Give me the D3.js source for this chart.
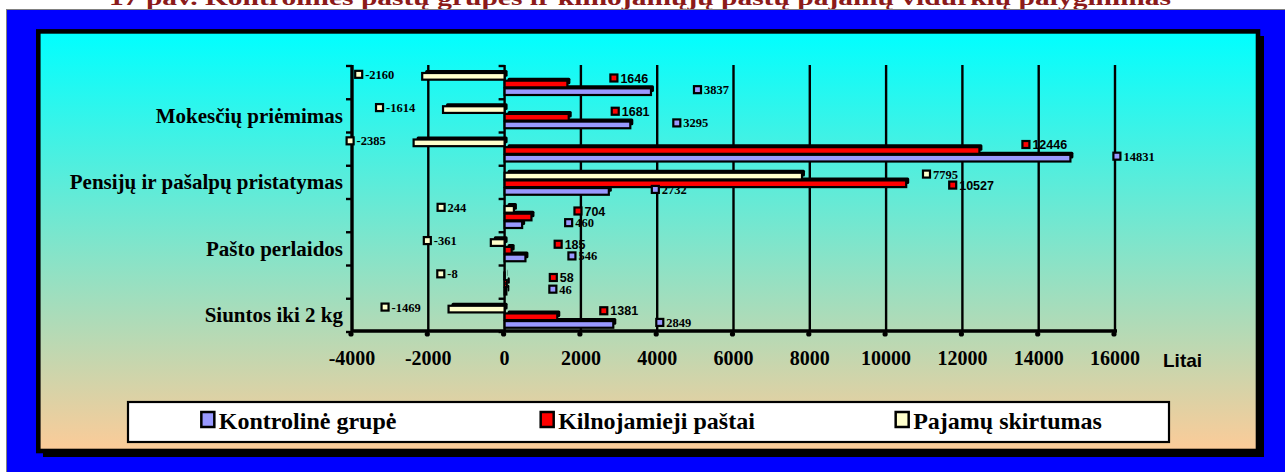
<!DOCTYPE html>
<html>
<head>
<meta charset="utf-8">
<script src="https://cdn.jsdelivr.net/npm/d3@7"></script>
<style>
  body { margin: 0; background: #fff; }
</style>
</head>
<body>
<div id="chart"></div>
<script>
// chart data, rows listed top to bottom (every 2nd category label hidden)
var categories = ["", "Mokesčių priėmimas", "", "Pensijų ir pašalpų pristatymas", "", "Pašto perlaidos", "", "Siuntos iki 2 kg"];
var kontroline = [3837, 3295, 14831, 2732, 460, 546, 46, 2849];
var kilnojamieji = [1646, 1681, 12446, 10527, 704, 185, 58, 1381];
var skirtumas = [-2160, -1614, -2385, 7795, 244, -361, -8, -1469];
var seriesNames = ["Kontrolinė grupė", "Kilnojamieji paštai", "Pajamų skirtumas"];
var xTicks = [-4000, -2000, 0, 2000, 4000, 6000, 8000, 10000, 12000, 14000, 16000];
var title = "17 pav. Kontrolinės paštų grupės ir kilnojamųjų paštų pajamų vidurkių palyginimas";
var unitLabel = "Litai";

var colors = {
  "Kontrolinė grupė": "#9999ff",
  "Kilnojamieji paštai": "#ff0000",
  "Pajamų skirtumas": "#ffffcc"
};
var values = {
  "Kontrolinė grupė": kontroline,
  "Kilnojamieji paštai": kilnojamieji,
  "Pajamų skirtumas": skirtumas
};
// small vertical nudge of the data labels, per series
var labelShift = {
  "Kontrolinė grupė": -2,
  "Kilnojamieji paštai": -6,
  "Pajamų skirtumas": -2
};

var svgWidth = 1285;
var svgHeight = 472;
var serif = "Liberation Serif, Times New Roman, serif";
var sans = "Liberation Sans, Arial, sans-serif";

var svg = d3.select("#chart")
  .append("svg")
  .attr("width", svgWidth)
  .attr("height", svgHeight);

var defs = svg.append("defs");
var grad = defs.append("linearGradient")
  .attr("id", "bg")
  .attr("x1", 0).attr("y1", 0).attr("x2", 0).attr("y2", 1);
grad.append("stop").attr("offset", "0%").attr("stop-color", "#00ffff");
grad.append("stop").attr("offset", "100%").attr("stop-color", "#fccb98");

// title (mostly cut off at top)
svg.append("text")
  .attr("x", 640)
  .attr("y", 5)
  .attr("text-anchor", "middle")
  .attr("font-family", serif)
  .attr("font-weight", "bold")
  .attr("font-size", 22)
  .attr("fill", "#8b1a1a")
  .attr("textLength", 1062)
  .attr("lengthAdjust", "spacingAndGlyphs")
  .text(title);

// blue frame
svg.append("rect")
  .attr("x", 6.5).attr("y", 9.5)
  .attr("width", 1290).attr("height", 470)
  .attr("fill", "#0000ff")
  .attr("stroke", "#808080")
  .attr("stroke-width", 1);

// panel with drop shadow
svg.append("rect")
  .attr("x", 43).attr("y", 36)
  .attr("width", 1221).attr("height", 421)
  .attr("fill", "#000");
svg.append("rect")
  .attr("x", 38.3).attr("y", 31.4)
  .attr("width", 1219.7).attr("height", 419.6)
  .attr("fill", "url(#bg)")
  .attr("stroke", "#000")
  .attr("stroke-width", 4.6);

// scales
var plotTop = 65, plotBottom = 331;
var x = d3.scaleLinear().domain([-4000, 16000]).range([352, 1115]);
var rows = d3.scaleBand().domain(d3.range(categories.length)).range([66, 332]);
var order = ["Pajamų skirtumas", "Kilnojamieji paštai", "Kontrolinė grupė"];
var inner = d3.scaleBand().domain(order).range([7, 30]);

var chart = svg.append("g");

// gridlines
chart.selectAll(".grid")
  .data(xTicks.slice(1))
  .enter()
  .append("line")
  .attr("x1", d => x(d)).attr("x2", d => x(d))
  .attr("y1", plotTop).attr("y2", plotBottom)
  .attr("stroke", "#000")
  .attr("stroke-width", 2.4);

// left axis line and ticks
chart.append("line")
  .attr("x1", x(-4000)).attr("x2", x(-4000))
  .attr("y1", plotTop).attr("y2", plotBottom + 1)
  .attr("stroke", "#000").attr("stroke-width", 3.4);
var boundaries = d3.range(categories.length + 1).map(i => 66 + i * rows.step());
[x(-4000), x(0)].forEach(function(ax) {
  chart.selectAll(null)
    .data(boundaries)
    .enter()
    .append("line")
    .attr("x1", ax - 6).attr("x2", ax)
    .attr("y1", d => d).attr("y2", d => d)
    .attr("stroke", "#000").attr("stroke-width", 2.4);
});

// bottom axis
chart.append("line")
  .attr("x1", x(-4000) - 1).attr("x2", x(16000) + 2)
  .attr("y1", plotBottom).attr("y2", plotBottom)
  .attr("stroke", "#000").attr("stroke-width", 3.4);
chart.selectAll(".xtick")
  .data(xTicks)
  .enter()
  .append("circle")
  .attr("cx", d => x(d) - 1)
  .attr("cy", plotBottom + 3)
  .attr("r", 2.6)
  .attr("fill", "#000");
chart.selectAll(".xlabel")
  .data(xTicks)
  .enter()
  .append("text")
  .attr("x", d => x(d))
  .attr("y", 365)
  .attr("text-anchor", "middle")
  .attr("font-family", serif)
  .attr("font-weight", "bold")
  .attr("font-size", 20)
  .text(d => d);

chart.append("text")
  .attr("x", 1163)
  .attr("y", 367)
  .attr("font-family", sans)
  .attr("font-weight", "bold")
  .attr("font-size", 19)
  .text(unitLabel);

// category labels
chart.selectAll(".cat")
  .data(categories)
  .enter()
  .append("text")
  .attr("x", 343)
  .attr("y", (d, i) => rows(i) + rows.bandwidth() / 2 + 7)
  .attr("text-anchor", "end")
  .attr("font-family", serif)
  .attr("font-weight", "bold")
  .attr("font-size", 21)
  .text(d => d);

// bars
var barData = [];
order.forEach(function(name) {
  values[name].forEach(function(v, i) {
    barData.push({ name: name, row: i, value: v });
  });
});

var barH = inner.bandwidth() - 1;
chart.selectAll(".shadow")
  .data(barData)
  .enter()
  .append("rect")
  .attr("x", d => Math.min(x(d.value), x(0)) + 3)
  .attr("y", d => rows(d.row) + inner(d.name) - 3)
  .attr("width", d => Math.abs(x(d.value) - x(0)))
  .attr("height", barH)
  .attr("rx", 1.5)
  .attr("fill", "#000");
chart.selectAll(".bar")
  .data(barData)
  .enter()
  .append("rect")
  .attr("x", d => Math.min(x(d.value), x(0)))
  .attr("y", d => rows(d.row) + inner(d.name))
  .attr("width", d => Math.abs(x(d.value) - x(0)))
  .attr("height", barH)
  .attr("fill", d => colors[d.name])
  .attr("stroke", "#000")
  .attr("stroke-width", 2.2);

// data labels with legend keys: the difference series puts its small
// values on the left side, the other series sit right of the bar end
function labelX(d) {
  if (d.name == "Pajamų skirtumas" && d.value < 1000) {
    return x(Math.min(d.value, 0)) - 68;
  }
  return d.name == "Pajamų skirtumas" ? x(d.value) + 120 : x(d.value) + 42;
}
barData.forEach(function(d) {
  d.lx = labelX(d);
  d.ly = rows(d.row) + inner(d.name) + barH / 2 + labelShift[d.name];
  d.lw = 14 + String(d.value).length * 7;
});
// push labels down when they collide with the one above in the same row
d3.range(categories.length).forEach(function(r) {
  var inRow = barData.filter(d => d.row == r);
  inRow.forEach(function(d, i) {
    inRow.slice(0, i).forEach(function(p) {
      var overlapX = d.lx < p.lx + p.lw && p.lx < d.lx + d.lw;
      if (overlapX && d.ly - p.ly < 11) d.ly = p.ly + 11;
    });
  });
});

var labels = chart.selectAll(".lab")
  .data(barData)
  .enter()
  .append("g")
  .attr("transform", d => "translate(" + d.lx + "," + d.ly + ")");
labels.append("rect")
  .attr("x", 1).attr("y", -3.5)
  .attr("width", 7).attr("height", 7)
  .attr("fill", d => colors[d.name])
  .attr("stroke", "#000")
  .attr("stroke-width", 2.2);
labels.append("text")
  .attr("x", 11)
  .attr("y", 4.5)
  .attr("font-family", d => d.name == "Kilnojamieji paštai" ? sans : serif)
  .attr("font-weight", "bold")
  .attr("font-size", 12.5)
  .text(d => d.value);

// legend
var legX = 128, legY = 402, legW = 1041, legH = 40;
svg.append("rect")
  .attr("x", legX).attr("y", legY)
  .attr("width", legW).attr("height", legH)
  .attr("fill", "#fff")
  .attr("stroke", "#000")
  .attr("stroke-width", 2.2);
var legPos = [0.069, 0.395, 0.736];
var leg = svg.selectAll(".leg")
  .data(seriesNames)
  .enter()
  .append("g")
  .attr("transform", (d, i) => "translate(" + (legX + legW * legPos[i]) + "," + legY + ")");
leg.append("rect")
  .attr("x", 1.5).attr("y", 10)
  .attr("width", 13).attr("height", 15)
  .attr("fill", d => colors[d])
  .attr("stroke", "#000")
  .attr("stroke-width", 2.5);
leg.append("text")
  .attr("x", 19)
  .attr("y", 26.5)
  .attr("font-family", serif)
  .attr("font-weight", "bold")
  .attr("font-size", 24)
  .text(d => d);
</script>
</body>
</html>
